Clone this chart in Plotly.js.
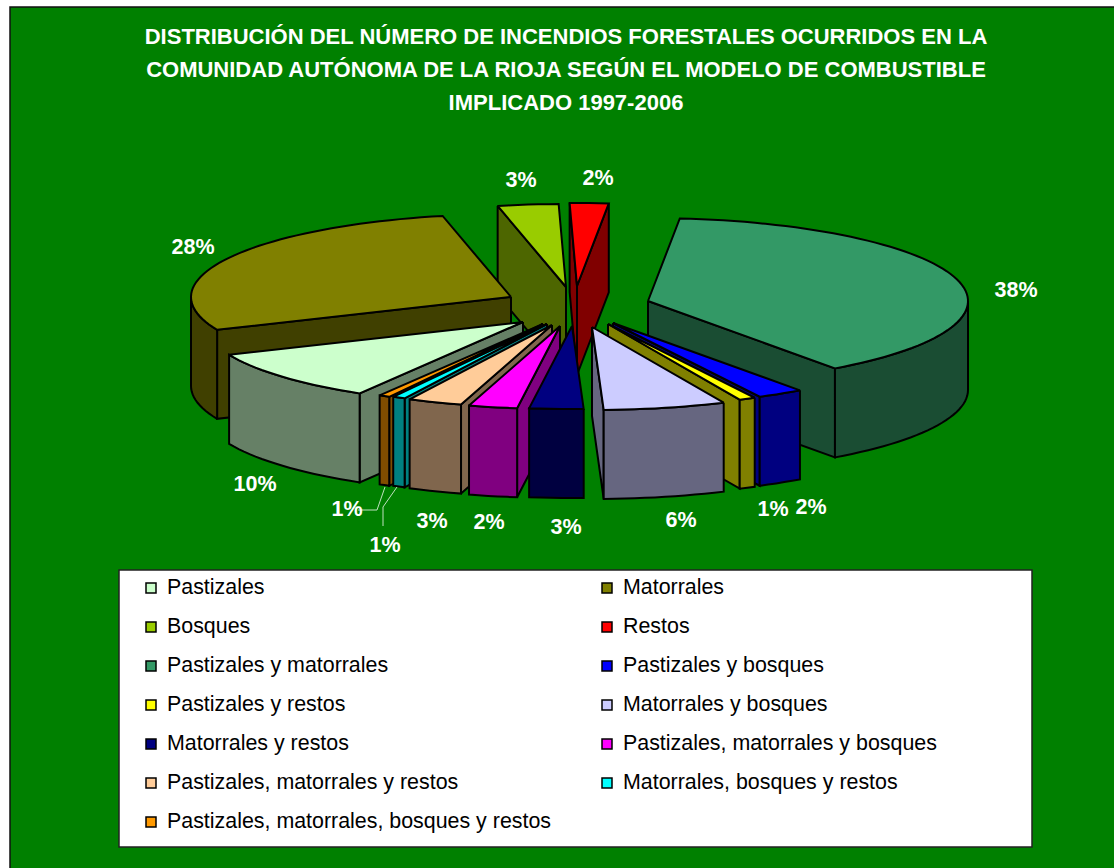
<!DOCTYPE html>
<html><head><meta charset="utf-8">
<script src="https://cdn.plot.ly/plotly-3.0.1.min.js"></script>
<style>html,body{margin:0;padding:0;background:#fff}#c{width:1114px;height:868px}</style>
</head><body><div id="c"></div>
<script>
// ---- data ----
const categories = ["Pastizales","Matorrales","Bosques","Restos","Pastizales y matorrales","Pastizales y bosques","Pastizales y restos","Matorrales y bosques","Matorrales y restos","Pastizales, matorrales y bosques","Pastizales, matorrales y restos","Matorrales, bosques y restos","Pastizales, matorrales, bosques y restos"];
const values = [10.0,28.05,3.06,1.95,38.49,2.35,0.83,6.17,2.72,2.45,2.75,0.64,0.55];
// ---- styles ----
const topColors  = ["#CCFFCC","#808000","#99CC00","#FF0000","#339966","#0000FF","#FFFF00","#CCCCFF","#000080","#FF00FF","#FFCC99","#00FFFF","#FF9900"];
const sideColors = ["#668066","#404000","#4D6600","#800000","#1A4D33","#000080","#808000","#666680","#000040","#800080","#80664D","#008080","#804D00"];
// per-slice exploded apex of the pie, in picture pixels
const apexX = [523,511,566,577,648,613,608,592,572,560,552,547,543];
const apexY = [322,297,287,286,301,323,324,327,326,326,325,324,324];
const drawOrder = [3,2,1,4,0,5,6,7,12,11,10,9,8];
const startAngle = 210.7, rx = 320, ry = 83, depth = 89;
const labelX = [255,193,521,598,1016,811,773,681,566,489,432,385,347];
const labelY = [486,249,182,180,292,509,511,522,529,524,523,547,511];
const legendXs = [151,607], legendY0 = 589, legendStep = 39;

const total = values.reduce((a,b)=>a+b,0);
const traces = [];
function poly(xs, ys, color){
  traces.push({type:"scatter",mode:"lines",x:xs.concat(xs[0]),y:ys.concat(ys[0]),fill:"toself",fillcolor:color,
    line:{color:"#000",width:2,simplify:false},hoverinfo:"skip",showlegend:false});
}
const rad = d=>d*Math.PI/180;
let acc = startAngle; const a0s=[], a1s=[];
values.forEach(v=>{a0s.push(acc); acc+=v/total*360; a1s.push(acc);});
function px(i,a){return apexX[i]+rx*Math.sin(rad(a));}
function py(i,a){return apexY[i]-ry*Math.cos(rad(a));}
function arc(i,a,b){const out=[];const n=Math.max(2,Math.ceil((b-a)/2));for(let k=0;k<=n;k++)out.push(a+(b-a)*k/n);return out;}
drawOrder.forEach(i=>{
  const a0=a0s[i], a1=a1s[i];
  const cut=(a)=>poly([apexX[i],px(i,a),px(i,a),apexX[i]],[apexY[i],py(i,a),py(i,a)+depth,apexY[i]+depth],sideColors[i]);
  if(Math.sin(rad(a0))<0) cut(a0);
  if(Math.sin(rad(a1))>0) cut(a1);
  // outer wall: only the part on the viewer's side
  [[90,270],[450,630]].forEach(([lo,hi])=>{
    const s=Math.max(a0,lo), e=Math.min(a1,hi);
    if(s<e){
      const as=arc(i,s,e);
      const xs=as.map(a=>px(i,a)), ys=as.map(a=>py(i,a));
      poly(xs.concat(xs.slice().reverse()), ys.concat(ys.slice().reverse().map(y=>y+depth)), sideColors[i]);
    }
  });
  const as=arc(i,a0,a1);
  poly([apexX[i]].concat(as.map(a=>px(i,a))),[apexY[i]].concat(as.map(a=>py(i,a))),topColors[i]);
});
// leader lines
traces.push({type:"scatter",mode:"lines",x:[385,377,358],y:[487,510,510],line:{color:"#BFE0BF",width:1},hoverinfo:"skip",showlegend:false});
traces.push({type:"scatter",mode:"lines",x:[397,383,383],y:[487,507,526],line:{color:"#BFE0BF",width:1},hoverinfo:"skip",showlegend:false});
// percent labels
traces.push({type:"scatter",mode:"text",x:labelX,y:labelY,text:values.map(v=>Math.round(v/total*100)+"%"),
  textposition:"middle center",textfont:{family:"Liberation Sans, Arial, sans-serif",size:21.5,color:"#fff",weight:700},hoverinfo:"skip",showlegend:false});
// legend
const lx=categories.map((c,i)=>legendXs[i%2]), ly=categories.map((c,i)=>legendY0+legendStep*Math.floor(i/2));
traces.push({type:"scatter",mode:"markers",x:lx,y:ly.map(y=>y-1),marker:{symbol:"square",size:10,color:topColors,line:{color:"#000",width:1.5}},hoverinfo:"skip",showlegend:false});
traces.push({type:"scatter",mode:"text",x:lx.map(x=>x+16),y:ly,text:categories,textposition:"middle right",
  textfont:{family:"Liberation Sans, Arial, sans-serif",size:21.4,color:"#000"},hoverinfo:"skip",showlegend:false});

const titleText = ["DISTRIBUCIÓN DEL NÚMERO DE INCENDIOS FORESTALES OCURRIDOS EN LA","COMUNIDAD AUTÓNOMA DE LA RIOJA SEGÚN EL MODELO DE COMBUSTIBLE","IMPLICADO 1997-2006"].map(s=>'<span style="font-size:22px">'+s+'</span>').join("<br>");
const layout = {
  width:1114,height:868,margin:{l:0,r:0,t:0,b:0},paper_bgcolor:"#fff",plot_bgcolor:"rgba(0,0,0,0)",showlegend:false,
  title:{text:titleText,x:566/1114,xanchor:"center",y:1-44/868,yanchor:"top",font:{family:"Liberation Sans, Arial, sans-serif",size:25.4,color:"#fff",weight:700}},
  xaxis:{range:[0,1114],visible:false,fixedrange:true},
  yaxis:{range:[868,0],visible:false,fixedrange:true},
  shapes:[
    {type:"rect",layer:"below",x0:10,x1:1120,y0:7,y1:875,fillcolor:"#008000",line:{color:"#111",width:1.5}},
    {type:"rect",layer:"below",x0:119,x1:1032,y0:570,y1:847,fillcolor:"#fff",line:{color:"#222",width:1.5}}
  ]
};
Plotly.newPlot("c",traces,layout,{displayModeBar:false,staticPlot:true});
</script></body></html>
